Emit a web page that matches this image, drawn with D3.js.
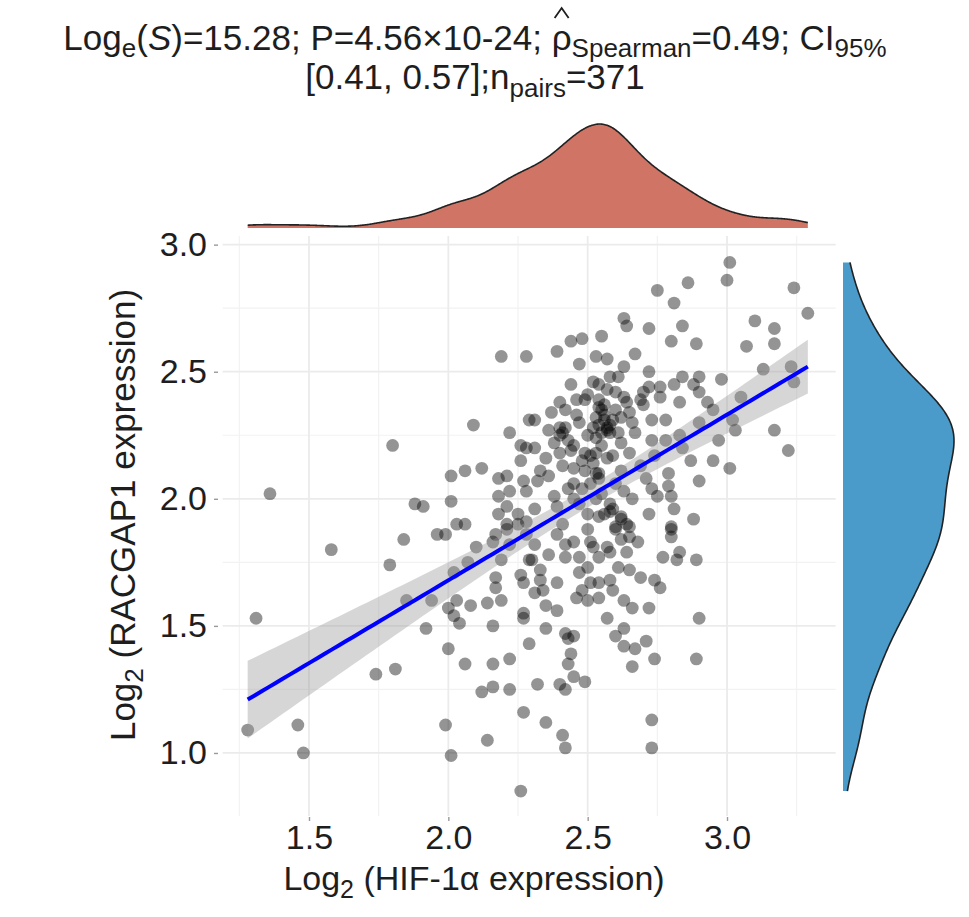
<!DOCTYPE html>
<html>
<head>
<meta charset="utf-8">
<script src="https://cdn.jsdelivr.net/npm/d3@7/dist/d3.min.js"></script>
<style>
  body { margin: 0; background: #fff; }
  text { font-family: "Liberation Sans", Arial, Helvetica, sans-serif; }
</style>
</head>
<body>
<script>
// tick values
const xTicks = [1.5, 2.0, 2.5, 3.0];
const yTicks = [1.0, 1.5, 2.0, 2.5, 3.0];

// log2 HIF-1a expression (x)
const hif1a = [
  2.19, 2.28, 2.09, 2.29, 2.22, 2.26, 2.28, 1.80, 1.36, 2.01,
  2.06, 2.12, 2.18, 2.21, 2.27, 2.18, 2.22, 2.28, 1.88, 1.91,
  2.01, 2.21, 2.18, 2.25, 2.03, 2.06, 2.21, 3.01, 3.00, 2.86,
  2.75, 2.81, 3.24, 3.29, 2.63, 2.64, 2.72, 2.84, 3.10, 3.17,
  3.17, 3.07, 2.89, 2.80, 2.55, 2.48, 2.44, 2.39, 2.53, 2.57,
  2.67, 2.63, 2.47, 2.72, 2.58, 2.61, 2.52, 2.44, 2.54, 2.84,
  2.90, 2.98, 2.81, 2.76, 2.88, 3.13, 3.23, 3.24, 2.60, 2.70,
  2.76, 2.90, 2.93, 2.83, 3.05, 2.40, 2.49, 2.54, 2.55, 2.70,
  2.64, 2.65, 2.73, 2.78, 2.95, 3.02, 3.03, 3.17, 3.22, 2.31,
  2.37, 2.46, 2.56, 2.62, 2.41, 2.50, 2.57, 2.67, 2.62, 2.73,
  2.83, 2.84, 2.90, 2.31, 2.35, 2.41, 2.40, 2.45, 2.53, 2.59,
  2.65, 2.54, 2.95, 3.01, 2.79, 2.71, 2.79, 2.80, 2.75, 2.73,
  2.45, 2.48, 2.36, 2.32, 2.38, 2.39, 2.53, 2.58, 2.50, 2.54,
  2.62, 2.72, 2.88, 2.80, 2.31, 2.28, 2.65, 2.60, 2.54, 2.56,
  2.54, 2.57, 2.58, 2.40, 2.42, 1.58, 1.84, 1.79, 1.96, 1.99,
  2.10, 2.07, 2.02, 2.17, 2.21, 2.25, 2.16, 2.28, 2.17, 2.17,
  2.26, 2.27, 2.29, 1.94, 1.85, 2.03, 2.08, 2.14, 2.19, 2.00,
  2.02, 2.04, 2.16, 2.27, 2.27, 1.92, 1.31, 2.00, 2.29, 2.06,
  2.16, 2.22, 1.74, 1.81, 2.12, 2.16, 2.22, 2.27, 1.46, 1.28,
  1.99, 2.14, 1.48, 2.01, 2.26, 2.39, 2.42, 2.45, 2.51, 2.52,
  2.57, 2.60, 2.64, 2.62, 2.65, 2.68, 2.80, 2.80, 2.83, 2.82,
  2.77, 2.89, 2.30, 2.36, 2.42, 2.47, 2.50, 2.54, 2.58, 2.64,
  2.61, 2.65, 2.33, 2.47, 2.33, 2.39, 2.51, 2.54, 2.58, 2.69,
  2.74, 2.76, 2.31, 2.34, 2.48, 2.59, 2.46, 2.50, 2.54, 2.35,
  2.39, 2.63, 2.66, 2.72, 2.57, 2.90, 2.35, 2.42, 2.45, 2.63,
  2.60, 2.71, 2.43, 2.63, 2.67, 2.44, 2.74, 2.89, 2.43, 2.66,
  2.32, 2.45, 2.49, 2.40, 2.42, 2.35, 2.41, 2.42, 2.73, 2.73,
  2.56, 2.53, 2.58, 2.55, 2.43, 2.40, 2.69, 2.72, 2.63, 2.60,
  2.51, 2.49, 2.62, 2.69, 2.74, 2.45, 2.50, 2.57, 2.46, 2.42,
  2.52, 2.59, 2.47, 2.44, 2.38, 2.53, 2.61, 2.36, 2.55, 2.66,
  2.33, 2.26, 2.22, 2.31, 2.19, 2.78, 2.87, 2.81, 2.90, 2.97,
  2.52, 2.55, 2.58, 2.49, 2.60, 2.47, 2.53, 2.62, 2.43, 2.57,
  2.50, 2.66, 2.45, 2.59, 2.54, 2.41, 2.63, 2.48, 2.56, 2.51
];

// log2 RACGAP1 expression (y), same order
const racgap1 = [
  2.56, 2.56, 2.29, 2.31, 2.26, 2.21, 2.20, 2.21, 2.02, 2.09,
  2.11, 2.12, 2.08, 2.09, 2.07, 2.01, 2.03, 2.03, 1.98, 1.97,
  1.99, 1.97, 1.94, 1.94, 1.90, 1.90, 1.90, 2.93, 2.86, 2.85,
  2.82, 2.77, 2.83, 2.73, 2.71, 2.68, 2.67, 2.68, 2.70, 2.67,
  2.61, 2.60, 2.61, 2.62, 2.64, 2.63, 2.62, 2.58, 2.56, 2.55,
  2.57, 2.52, 2.53, 2.50, 2.48, 2.48, 2.46, 2.45, 2.45, 2.48,
  2.48, 2.47, 2.45, 2.44, 2.45, 2.51, 2.52, 2.46, 2.42, 2.42,
  2.40, 2.42, 2.38, 2.38, 2.40, 2.38, 2.39, 2.39, 2.35, 2.37,
  2.38, 2.34, 2.31, 2.31, 2.35, 2.31, 2.27, 2.27, 2.19, 2.31,
  2.34, 2.33, 2.31, 2.32, 2.26, 2.25, 2.27, 2.26, 2.22, 2.23,
  2.25, 2.20, 2.30, 2.20, 2.16, 2.13, 2.18, 2.21, 2.18, 2.17,
  2.18, 2.10, 2.15, 2.12, 2.10, 2.08, 2.05, 2.01, 2.01, 2.04,
  2.06, 2.04, 2.09, 2.07, 2.01, 1.97, 2.00, 1.98, 1.94, 1.93,
  1.93, 1.94, 1.92, 1.89, 1.96, 1.91, 1.89, 1.89, 2.36, 2.33,
  2.29, 2.28, 2.26, 2.25, 2.28, 1.80, 1.84, 1.74, 1.86, 1.86,
  1.81, 1.75, 1.71, 1.86, 1.88, 1.90, 1.83, 1.86, 1.69, 1.65,
  1.70, 1.67, 1.76, 1.60, 1.60, 1.60, 1.58, 1.59, 1.60, 1.57,
  1.54, 1.51, 1.50, 1.55, 1.53, 1.49, 1.53, 1.41, 1.43, 1.35,
  1.35, 1.37, 1.31, 1.33, 1.24, 1.26, 1.25, 1.16, 1.11, 1.09,
  1.11, 1.05, 1.00, 0.99, 0.85, 1.86, 1.82, 1.83, 1.83, 1.81,
  1.81, 1.88, 1.90, 1.84, 1.85, 1.83, 1.88, 1.85, 1.79, 1.76,
  1.77, 1.76, 1.76, 1.78, 1.77, 1.77, 1.73, 1.77, 1.79, 1.79,
  1.73, 1.72, 1.72, 1.71, 1.68, 1.67, 1.67, 1.67, 1.68, 1.69,
  1.68, 1.65, 1.63, 1.64, 1.64, 1.64, 1.61, 1.60, 1.61, 1.58,
  1.56, 1.60, 1.57, 1.57, 1.53, 1.53, 1.49, 1.47, 1.46, 1.49,
  1.46, 1.44, 1.45, 1.42, 1.41, 1.39, 1.37, 1.37, 1.35, 1.34,
  1.27, 1.30, 1.28, 1.27, 1.25, 1.12, 1.07, 1.02, 1.13, 1.02,
  2.37, 2.32, 2.29, 2.26, 2.23, 2.28, 2.39, 2.44, 2.40, 2.35,
  2.17, 2.11, 2.11, 2.13, 2.17, 2.00, 2.41, 2.43, 2.39, 2.35,
  2.28, 2.31, 2.30, 2.19, 2.22, 2.24, 2.26, 2.27, 2.21, 2.30,
  2.11, 2.15, 1.82, 1.82, 1.76, 2.23, 2.15, 1.96, 2.07, 2.23,
  2.14, 2.02, 1.95, 2.18, 2.06, 1.98, 2.10, 1.92, 2.04, 2.16,
  1.88, 2.00, 2.12, 1.96, 2.08, 1.90, 2.03, 2.15, 1.94, 2.06
];

// fitted line end points
const fitFrom = [1.28, 1.21];
const fitTo = [3.29, 2.52];

const W = 969, H = 917;
const svg = d3.select("body").append("svg")
    .attr("width", W)
    .attr("height", H);

// main panel
const x = d3.scaleLinear().domain([1.19, 3.39]).range([222.6, 835.7]);
const y = d3.scaleLinear().domain([0.752, 3.034]).range([816, 236]);
const [px0, px1] = x.range();
const [py0, py1] = y.range();

const xMinor = [1.25, 1.75, 2.25, 2.75, 3.25];
const yMinor = [1.25, 1.75, 2.25, 2.75];

const grid = svg.append("g");
grid.selectAll(".vmin").data(xMinor).enter().append("line")
    .attr("x1", d => x(d)).attr("x2", d => x(d))
    .attr("y1", py0).attr("y2", py1)
    .attr("stroke", "#f2f2f2").attr("stroke-width", 1.2);
grid.selectAll(".hmin").data(yMinor).enter().append("line")
    .attr("y1", d => y(d)).attr("y2", d => y(d))
    .attr("x1", px0).attr("x2", px1)
    .attr("stroke", "#f2f2f2").attr("stroke-width", 1.2);
grid.selectAll(".vmaj").data(xTicks).enter().append("line")
    .attr("x1", d => x(d)).attr("x2", d => x(d))
    .attr("y1", py0).attr("y2", py1)
    .attr("stroke", "#ebebeb").attr("stroke-width", 1.8);
grid.selectAll(".hmaj").data(yTicks).enter().append("line")
    .attr("y1", d => y(d)).attr("y2", d => y(d))
    .attr("x1", px0).attr("x2", px1)
    .attr("stroke", "#ebebeb").attr("stroke-width", 1.8);

// points
svg.append("g").selectAll("circle")
    .data(d3.range(hif1a.length))
    .enter()
    .append("circle")
        .attr("cx", i => x(hif1a[i]))
        .attr("cy", i => y(racgap1[i]))
        .attr("r", 6.4)
        .attr("fill", "#000")
        .attr("fill-opacity", 0.42);

// line + 95% band (spread from the points)
const n = hif1a.length;
const mx = d3.mean(hif1a);
const slope = (fitTo[1] - fitFrom[1]) / (fitTo[0] - fitFrom[0]);
const icpt = fitFrom[1] - slope * fitFrom[0];
let sxx = 0, sse = 0;
for (let i = 0; i < n; i++) {
    sxx += (hif1a[i] - mx) ** 2;
    sse += (racgap1[i] - icpt - slope * hif1a[i]) ** 2;
}
const sigma = Math.sqrt(sse / (n - 2));
const tq = 1.967;
const fit = d3.range(81).map(k => {
    const xv = fitFrom[0] + (fitTo[0] - fitFrom[0]) * k / 80;
    const se = sigma * Math.sqrt(1 / n + (xv - mx) ** 2 / sxx);
    const yv = icpt + slope * xv;
    return {x: xv, y: yv, lo: yv - tq * se, hi: yv + tq * se};
});

svg.append("path")
    .datum(fit)
    .attr("d", d3.area().x(d => x(d.x)).y0(d => y(d.lo)).y1(d => y(d.hi)))
    .attr("fill", "#999999")
    .attr("fill-opacity", 0.4);
svg.append("path")
    .datum(fit)
    .attr("d", d3.line().x(d => x(d.x)).y(d => y(d.y)))
    .attr("fill", "none")
    .attr("stroke", "#0000ff")
    .attr("stroke-width", 4);

// axes
const fmt = d3.format(".1f");
const xAxis = svg.append("g")
    .attr("transform", `translate(0, ${py0 + 1})`)
    .call(d3.axisBottom(x).tickValues(xTicks).tickFormat(fmt).tickSize(4).tickPadding(4));
const yAxis = svg.append("g")
    .attr("transform", `translate(${px0 - 4.6}, 0)`)
    .call(d3.axisLeft(y).tickValues(yTicks).tickFormat(fmt).tickSize(4).tickPadding(7));
[xAxis, yAxis].forEach(g => {
    g.select(".domain").remove();
    g.selectAll(".tick line").attr("stroke", "#9a9a9a").attr("stroke-width", 1.4);
    g.selectAll(".tick text")
        .attr("fill", "#1e1e1e")
        .style("font-size", "34px")
        .style("font-family", "'Liberation Sans', Arial, sans-serif");
});

// kernel density (gaussian, nrd0 bandwidth)
function density(vals, m = 512) {
    const s = vals.slice().sort(d3.ascending);
    const iqr = d3.quantile(s, 0.75) - d3.quantile(s, 0.25);
    const bw = 0.9 * Math.min(d3.deviation(s), iqr / 1.34) * Math.pow(s.length, -0.2);
    const [a, b] = d3.extent(s);
    return d3.range(m).map(k => {
        const g = a + (b - a) * k / (m - 1);
        const dens = d3.mean(s, v => Math.exp(-0.5 * ((g - v) / bw) ** 2)) / (bw * Math.sqrt(2 * Math.PI));
        return [g, dens];
    });
}

// top marginal
const dx = density(hif1a);
const topY = d3.scaleLinear().domain([0, d3.max(dx, d => d[1])]).range([228, 124]);
svg.append("path")
    .datum(dx)
    .attr("d", d3.area().x(d => x(d[0])).y0(topY(0)).y1(d => topY(d[1])).curve(d3.curveBasis))
    .attr("fill", "#d07565");
svg.append("path")
    .datum(dx)
    .attr("d", d3.line().x(d => x(d[0])).y(d => topY(d[1])).curve(d3.curveBasis))
    .attr("fill", "none")
    .attr("stroke", "#222")
    .attr("stroke-width", 1.6);

// right marginal
const dy = density(racgap1);
const rightX = d3.scaleLinear().domain([0, d3.max(dy, d => d[1])]).range([843, 954]);
svg.append("path")
    .datum(dy)
    .attr("d", d3.area().y(d => y(d[0])).x0(rightX(0)).x1(d => rightX(d[1])).curve(d3.curveBasis))
    .attr("fill", "#4a9bc9");
svg.append("path")
    .datum(dy)
    .attr("d", d3.line().y(d => y(d[0])).x(d => rightX(d[1])).curve(d3.curveBasis))
    .attr("fill", "none")
    .attr("stroke", "#222")
    .attr("stroke-width", 1.6);

// rich text helper: parts are [text, "sub" | "it" | null]
function richText(g, parts, size, drop = 8) {
    const t = g.append("text").style("font-size", size + "px").attr("fill", "#1e1e1e");
    let down = 0;
    parts.forEach(([s, kind]) => {
        const sp = t.append("tspan").text(s);
        if (kind === "sub") {
            sp.style("font-size", Math.round(size * 0.74) + "px").attr("dy", drop - down);
            down = drop;
        } else {
            if (down) sp.attr("dy", -down);
            down = 0;
            if (kind === "it") sp.style("font-style", "italic");
        }
    });
    return t;
}

// subtitle with statistics
const line1 = [["Log", null], ["e", "sub"], ["(", null], ["S", "it"], [")=15.28; P=4.56\u00d710-24; \u03c1", null],
               ["Spearman", "sub"], ["=0.49; CI", null], ["95%", "sub"]];
const line2 = [["[0.41, 0.57];n", null], ["pairs", "sub"], ["=371", null]];
const t1 = richText(svg.append("g").attr("transform", "translate(475, 50)"), line1, 35, 7)
    .attr("text-anchor", "middle");
richText(svg.append("g").attr("transform", "translate(475, 89)"), line2, 35)
    .attr("text-anchor", "middle");
// hat over rho
const rhoIdx = t1.text().indexOf("\u03c1");
const ext = t1.node().getExtentOfChar(rhoIdx);
const hx = 475 + ext.x + ext.width / 2;
svg.append("path")
    .attr("d", `M${hx - 7},18 L${hx},8 L${hx + 7},18`)
    .attr("fill", "none")
    .attr("stroke", "#1e1e1e")
    .attr("stroke-width", 1.8);

// axis titles
richText(svg.append("g").attr("transform", "translate(474, 890)"),
    [["Log", null], ["2", "sub"], [" (HIF-1\u03b1 expression)", null]], 34)
    .attr("text-anchor", "middle");
richText(svg.append("g").attr("transform", "translate(135, 515) rotate(-90)"),
    [["Log", null], ["2", "sub"], [" (RACGAP1 expression)", null]], 35)
    .attr("text-anchor", "middle");
</script>
</body>
</html>
